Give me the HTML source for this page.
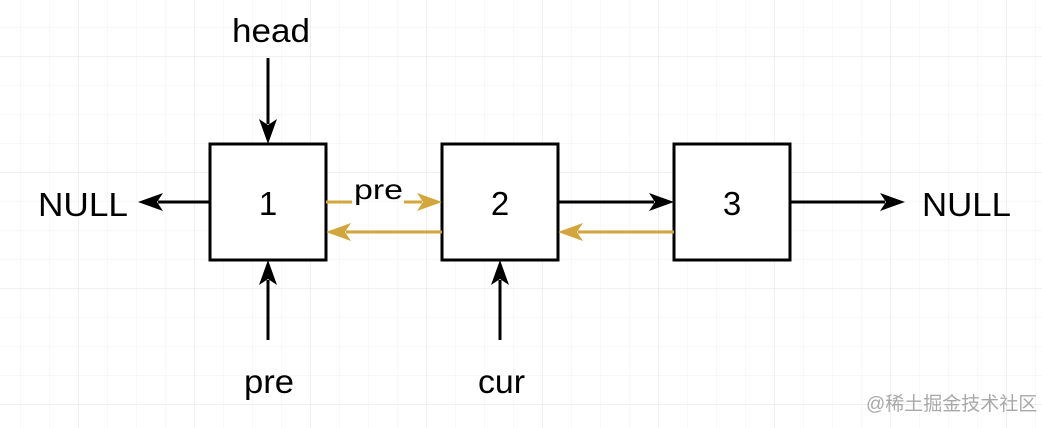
<!DOCTYPE html>
<html><head><meta charset="utf-8"><style>
body{margin:0;background:#fff}
svg{display:block}
text{font-family:"Liberation Sans",Arial,sans-serif;fill:#000}
</style></head><body>
<svg width="1042" height="428" viewBox="0 0 1042 428">
<defs>
<pattern id="g" x="20" y="27" width="29" height="29" patternUnits="userSpaceOnUse">
<path d="M0 0H29M0 0V29" stroke="#f0f0f0" stroke-width="1" fill="none"/>
</pattern>
<pattern id="G" x="78" y="56" width="116" height="116" patternUnits="userSpaceOnUse">
<path d="M0 0H116M0 0V116" stroke="#e0e0e0" stroke-width="1" fill="none"/>
</pattern>
</defs>
<rect width="1042" height="428" fill="url(#g)"/>
<rect width="1042" height="428" fill="url(#G)"/>
<g stroke="#000" stroke-width="3" fill="#fff">
<rect x="210" y="144" width="116" height="116"/>
<rect x="442" y="144" width="116" height="116"/>
<rect x="674" y="144" width="116" height="116"/>
</g>
<g font-size="33" text-anchor="middle">
<text x="268" y="215">1</text><text x="500" y="215">2</text><text x="732" y="215">3</text>
</g>
<g font-size="33">
<text x="38" y="216" textLength="90" lengthAdjust="spacingAndGlyphs">NULL</text>
<text x="922" y="216" textLength="89" lengthAdjust="spacingAndGlyphs">NULL</text>
<text x="232" y="42" textLength="78" lengthAdjust="spacingAndGlyphs">head</text>
<text x="244" y="393" textLength="50" lengthAdjust="spacingAndGlyphs">pre</text>
<text x="478" y="393" textLength="47" lengthAdjust="spacingAndGlyphs">cur</text>
</g>
<g stroke="#000" stroke-width="3">
<line x1="210" y1="202" x2="158" y2="202"/>
<line x1="790" y1="202" x2="885" y2="202"/>
<line x1="558" y1="202" x2="654" y2="202"/>
<line x1="268" y1="58" x2="268" y2="124"/>
<line x1="268" y1="340" x2="268" y2="280"/>
<line x1="500" y1="340" x2="500" y2="280"/>
</g>
<g fill="#000">
<path d="M138 202 L163 193 L157 202 L163 211Z"/>
<path d="M905 202 L880 193 L886 202 L880 211Z"/>
<path d="M674 202 L649 193 L655 202 L649 211Z"/>
<path d="M268 144 L259 119 L268 125 L277 119Z"/>
<path d="M268 260 L259 285 L268 279 L277 285Z"/>
<path d="M500 260 L491 285 L500 279 L509 285Z"/>
</g>
<g stroke="#d2a53d" stroke-width="3">
<line x1="326" y1="202" x2="352" y2="202"/>
<line x1="404" y1="202" x2="422" y2="202"/>
<line x1="442" y1="232" x2="346" y2="232"/>
<line x1="674" y1="232" x2="578" y2="232"/>
</g>
<g fill="#d2a53d">
<path d="M442 202 L417 193 L423 202 L417 211Z"/>
<path d="M326 232 L351 223 L345 232 L351 241Z"/>
<path d="M558 232 L583 223 L577 232 L583 241Z"/>
</g>
<text x="354" y="199" font-size="28" textLength="49" lengthAdjust="spacingAndGlyphs">pre</text>
<text x="866" y="410" font-size="19" style="fill:#a8a8a8;font-family:'Liberation Sans','Noto Sans CJK SC',sans-serif">@稀土掘金技术社区</text>
</svg>
</body></html>
